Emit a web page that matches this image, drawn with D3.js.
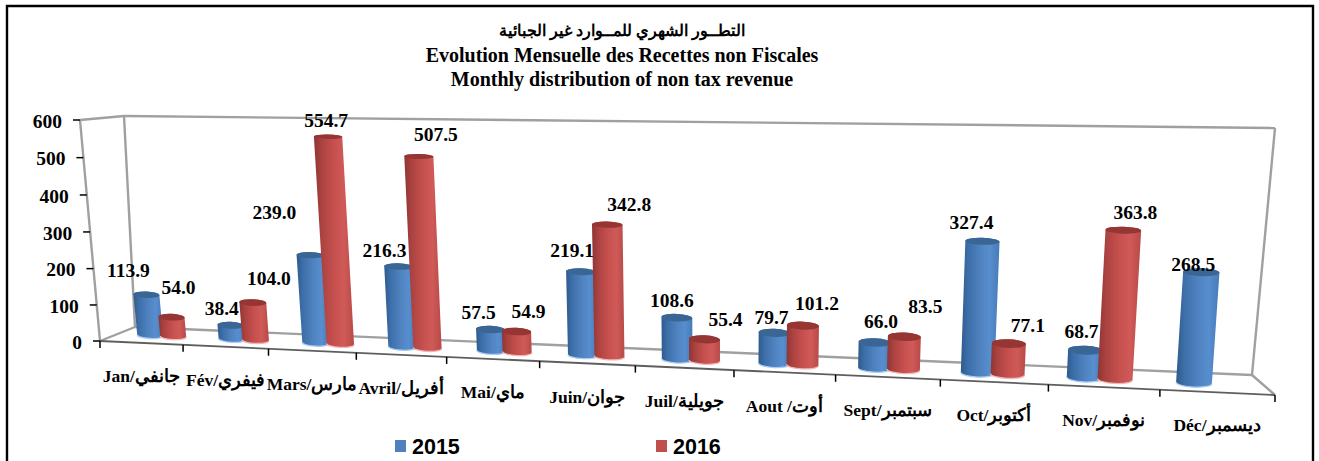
<!DOCTYPE html>
<html><head><meta charset="utf-8">
<script src="https://cdn.jsdelivr.net/npm/d3@7"></script>
<style>html,body{margin:0;padding:0;background:#fff;overflow:hidden}svg{display:block}
text{font-family:"Liberation Serif","DejaVu Serif",serif;font-weight:bold;fill:#000}</style>
</head><body><svg id="c" width="1319" height="461"></svg>
<script>
const months=['Jan/جانفي','Fév/فيفري','Mars/مارس','Avril/أفريل','Mai/ماي','Juin/جوان','Juil/جويلية','Aout /أوت','Sept/سبتمبر','Oct/أكتوبر','Nov/نوفمبر','Déc/ديسمبر'];
const seriesNames=['2015','2016'];
const values2015=[113.9,38.4,239.0,216.3,57.5,219.1,108.6,79.7,66.0,327.4,68.7,268.5];
const values2016=[54.0,104.0,554.7,507.5,54.9,342.8,55.4,101.2,83.5,77.1,363.8,null];
const yTicks=[0,100,200,300,400,500,600];
const titleLines=['التطــور الشهري  للمــوارد غير الجبائية','Evolution Mensuelle des Recettes non Fiscales','Monthly distribution of non tax revenue'];

// label offsets from the top of each bar (hand placed in the original chart)
const nudge2015=[[-18,-25],[-9,-17],[-36,-43],[-14,-16],[-12,-17],[-9,-22],[-5,-18],[-3,-16],[6,-21],[-11,-19],[-4,-19],[-8,-8]];
const nudge2016=[[7,-30],[16,-24],[-2,-17],[17,-22],[12,-20],[22,-21],[21,-20],[14,-22],[21,-31],[19,-18],[12,-18],[0,0]];

const svg=d3.select('#c');
// perspective box: bl, br, tl, tr
const front={bl:[100,341],br:[1275,395],tl:[80,120],tr:[1300,128]};
const back ={bl:[135,327],br:[1252,375],tl:[124,116],tr:[1275,128]};
const mid  ={bl:[119,334],br:[1263,386],tl:[98,116],tr:[1282,133]};
const cu=-0.163, cv=-0.026;
const barShift=0.0025;
const warp=(t,c)=>t*(1+c)/(1+c*t);
function proj(q,u,v){
  const a=warp(u,cu), b=warp(v,cv);
  const bx=q.bl[0]+(q.br[0]-q.bl[0])*a, by=q.bl[1]+(q.br[1]-q.bl[1])*a;
  const tx=q.tl[0]+(q.tr[0]-q.tl[0])*a, ty=q.tl[1]+(q.tr[1]-q.tl[1])*a;
  return [bx+(tx-bx)*b, by+(ty-by)*b];
}
const band=d3.scaleBand().domain(months).range([0,1]);
const inner=d3.scaleBand().domain(seriesNames).range([0,band.bandwidth()]).paddingInner(-0.123).paddingOuter(0.693);
const yS=d3.scaleLinear().domain([0,600]).range([0,1]);

// gradients
const defs=svg.append('defs');
function grad(id,stops){
  const g=defs.append('linearGradient').attr('id',id).attr('x1',0).attr('x2',1).attr('y1',0).attr('y2',0);
  stops.forEach(s=>g.append('stop').attr('offset',s[0]).attr('stop-color',s[1]));
}
grad('g2015',[[0,'#2f5a8c'],[.2,'#3d70aa'],[.5,'#4f82bf'],[.75,'#588ecf'],[1,'#477bb7']]);
grad('g2016',[[0,'#8f3533'],[.2,'#ab4341'],[.5,'#c6504e'],[.75,'#d05a58'],[1,'#b74a47']]);
const capColor={'2015':'#3a6695','2016':'#953634'};
const rimColor={'2015':'#a9cdf5','2016':'#f2b6b4'};

// frame
svg.append('path').attr('d','M7,461V6H1313V461').attr('fill','none').attr('stroke','#000').attr('stroke-width',2.4);

// walls and floor
const wall=[[front.tl,back.tl],[back.tl,back.tr],[front.tl,front.bl],[back.tl,back.bl],[back.tr,back.br],[front.bl,back.bl],[back.bl,back.br],[back.br,front.br]];
svg.append('g').selectAll('line').data(wall).join('line')
  .attr('x1',d=>d[0][0]).attr('y1',d=>d[0][1]).attr('x2',d=>d[1][0]).attr('y2',d=>d[1][1])
  .attr('stroke','#a0a0a0').attr('stroke-width',2.4);
svg.append('line').attr('x1',front.bl[0]).attr('y1',front.bl[1]).attr('x2',front.br[0]).attr('y2',front.br[1])
  .attr('stroke','#5e5e5e').attr('stroke-width',1.8);

// y axis
const yAxis=svg.append('g');
yTicks.forEach(t=>{
  const p=proj({bl:front.bl,br:front.bl,tl:front.tl,tr:front.tl},0,yS(t));
  yAxis.append('line').attr('x1',p[0]-7).attr('x2',p[0]).attr('y1',p[1]).attr('y2',p[1]).attr('stroke','#000').attr('stroke-width',1.5);
  yAxis.append('text').attr('x',p[0]-18).attr('y',p[1]+1).attr('dy','.35em').attr('text-anchor','end').attr('font-size',19.5).text(t);
});

// x axis
const xAxis=svg.append('g');
d3.range(13).forEach(i=>{
  const p=proj(front,i/12,0);
  xAxis.append('line').attr('x1',p[0]).attr('x2',p[0]).attr('y1',p[1]).attr('y2',p[1]+7).attr('stroke','#000').attr('stroke-width',1.5);
});
months.forEach(m=>{
  const p=proj(front,band(m)+band.bandwidth()/2,0);
  xAxis.append('text').attr('x',p[0]).attr('y',p[1]+33).attr('dy','.35em').attr('text-anchor','middle').attr('font-size',17.5).text(m);
});

// bars
const barsG=svg.append('g'), labelsG=svg.append('g');
const fmt=d3.format('.1f');
months.forEach((m,i)=>{
  [[seriesNames[0],values2015[i],nudge2015[i]],[seriesNames[1],values2016[i],nudge2016[i]]].forEach(([s,val,nd])=>{
    if(val==null) return;
    const u0=band(m)+inner(s)+barShift, u1=u0+inner.bandwidth(), v=yS(val);
    const b0=proj(mid,u0,0), b1=proj(mid,u1,0), t0=proj(mid,u0,v), t1=proj(mid,u1,v);
    const rb=Math.hypot(b1[0]-b0[0],b1[1]-b0[1])/2, rt=Math.hypot(t1[0]-t0[0],t1[1]-t0[1])/2;
    const angB=Math.atan2(b1[1]-b0[1],b1[0]-b0[0])*180/Math.PI, angT=Math.atan2(t1[1]-t0[1],t1[0]-t0[0])*180/Math.PI;
    const ryB=rb*0.24, ryT=rt*(0.27-0.12*v);
    const arc=(p,rx,ry,ang,sweep)=>`A${rx},${ry} ${ang} 0 ${sweep} ${p[0]},${p[1]}`;
    barsG.append('path').attr('fill',`url(#g${s})`)
      .attr('d',`M${b0}L${t0}${arc(t1,rt,ryT,angT,1)}L${b1}${arc(b0,rb,ryB,angB,1)}Z`);
    barsG.append('path').attr('fill','none').attr('stroke',rimColor[s]).attr('stroke-width',1.3)
      .attr('d',`M${b0}${arc(b1,rb,ryB,angB,0)}`);
    barsG.append('path').attr('fill',capColor[s])
      .attr('d',`M${t0}${arc(t1,rt,ryT,angT,1)}${arc(t0,rt,ryT,angT,1)}Z`);
    const c=[(t0[0]+t1[0])/2,(t0[1]+t1[1])/2];
    labelsG.append('text').attr('x',c[0]+nd[0]).attr('y',c[1]+nd[1]).attr('dy','.35em').attr('text-anchor','middle')
      .attr('font-size',19.5).text(fmt(val));
  });
});

// title
titleLines.forEach((l,i)=>{
  svg.append('text').attr('x',622).attr('y',[30,55,79][i]).attr('dy','.35em').attr('text-anchor','middle')
    .attr('font-size',i==0?16.4:20).text(l);
});

// legend
const legX=[395,656], legColor=['#4f81bd','#c0504d'];
seriesNames.forEach((s,i)=>{
  svg.append('rect').attr('x',legX[i]).attr('y',440).attr('width',11).attr('height',12).attr('fill',legColor[i]);
  svg.append('text').attr('x',legX[i]+17).attr('y',446).attr('dy','.35em').attr('font-size',21.5)
    .style('font-family','"Liberation Sans",Arial,sans-serif').text(s);
});
</script></body></html>
